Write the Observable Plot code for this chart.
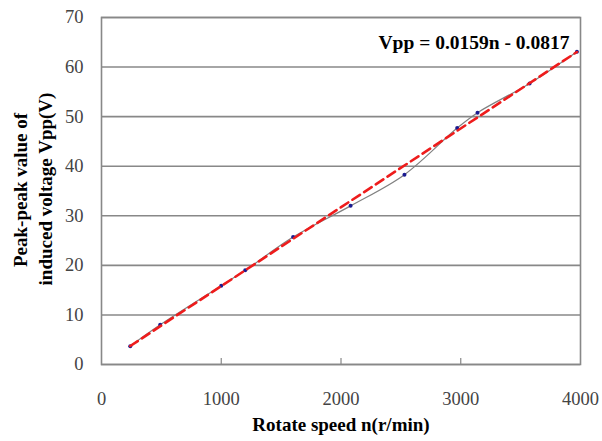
<!DOCTYPE html>
<html>
<head>
<meta charset="utf-8">
<script src="https://cdn.jsdelivr.net/npm/d3@7"></script>
<script src="https://cdn.jsdelivr.net/npm/@observablehq/plot@0.6"></script>
<style>
  html, body { margin: 0; padding: 0; background: #fff; }
  #chart { width: 602px; height: 441px; }
  #chart svg, #chart svg text { font-family: 'Liberation Serif', 'Times New Roman', serif !important; }
</style>
</head>
<body>
<div id="chart"></div>
<script>
const speed = [240, 490, 1000, 1200, 1600, 2080, 2530, 2970, 3140, 3575, 3970];
const vpp   = [3.7, 8.0, 15.9, 19.0, 25.7, 32.0, 38.3, 47.7, 50.8, 56.7, 63.1];
const fitSlope = 0.0159;
const fitIntercept = -0.0817;
const fitLabel = "Vpp = 0.0159n - 0.0817";
const xTicks = [0, 1000, 2000, 3000, 4000];
const yTicks = [0, 10, 20, 30, 40, 50, 60, 70];
const xLabel = "Rotate speed n(r/min)";
const yLabelLines = ["Peak-peak value of", "induced voltage Vpp(V)"];

const data = speed.map((n, i) => ({n, v: vpp[i]}));
const nMin = d3.min(speed), nMax = d3.max(speed);
const fit = [nMin, nMax].map(n => ({n, v: fitSlope * n + fitIntercept}));

const font = "'Liberation Serif', 'Times New Roman', serif";

const chart = Plot.plot({
  width: 602,
  height: 441,
  marginLeft: 101,
  marginRight: 22,
  marginTop: 17,
  marginBottom: 77,
  style: {fontFamily: font, background: "#fff"},
  x: {domain: [0, 4000], ticks: xTicks},
  y: {domain: [0, 70], ticks: yTicks},
  marks: [
    Plot.ruleY(yTicks, {stroke: "#888", strokeWidth: 1.6}),
    Plot.frame({stroke: "#888", strokeWidth: 1.6}),
    Plot.ruleX(xTicks.slice(1, -1), {y1: 0, y2: 1.2, stroke: "#888", strokeWidth: 1.2}),
    Plot.axisX({ticks: xTicks, tickFormat: d => String(d), tickSize: 0, tickPadding: 27, fontSize: 18.5, fill: "#444", label: null}),
    Plot.axisY({ticks: yTicks, tickFormat: d => String(d), tickSize: 0, tickPadding: 18, fontSize: 18.5, fill: "#444", label: null}),
    Plot.line(data, {x: "n", y: "v", stroke: "#808080", strokeWidth: 1.2, curve: "catmull-rom"}),
    Plot.dot(data, {x: "n", y: "v", r: 2, fill: "#1a1a90", stroke: null}),
    Plot.line(fit, {x: "n", y: "v", stroke: "#ee1c1c", strokeWidth: 2.6, strokeDasharray: "9,5"}),
    Plot.text([fitLabel], {frameAnchor: "top-right", dx: -11, dy: 18, fontSize: 19.5, fontWeight: "bold", fill: "#000", textAnchor: "end"}),
    Plot.text([xLabel], {frameAnchor: "bottom", dy: 66, fontSize: 19, fontWeight: "bold", fill: "#000", textAnchor: "middle"}),
    Plot.text([yLabelLines[0]], {frameAnchor: "left", dx: -81, dy: -1, rotate: -90, textAnchor: "middle", fontSize: 19, fontWeight: "bold", fill: "#000"}),
    Plot.text([yLabelLines[1]], {frameAnchor: "left", dx: -56, dy: -2, rotate: -90, textAnchor: "middle", fontSize: 19, fontWeight: "bold", fill: "#000"})
  ]
});
document.getElementById("chart").appendChild(chart);
</script>
</body>
</html>
